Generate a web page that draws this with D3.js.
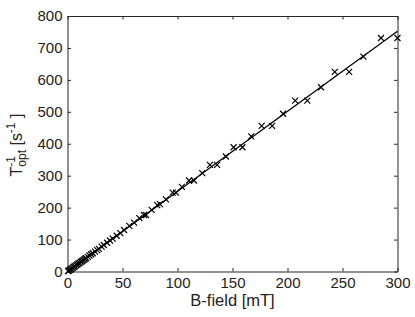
<!DOCTYPE html>
<html>
<head>
<meta charset="utf-8">
<script src="https://cdn.jsdelivr.net/npm/d3@7"></script>
<style>
  body { margin: 0; background: #fff; }
  text { font-family: "Liberation Sans", Arial, sans-serif; fill: #222; }
</style>
</head>
<body>
<div id="container"></div>
<script>
// measured points (B-field in mT, rate in 1/s)
const bField = [0.5, 1, 2, 3, 4, 5, 6, 7, 8, 9, 10, 11, 12, 13, 14, 15, 16, 17, 18.5, 20,
  21.5, 23, 25, 27, 28.5, 31, 33, 36, 38.6, 41, 44.7, 48, 51.4, 56.2, 60.5, 65.3,
  69.5, 71.4, 76.5, 81.6, 84, 89.5, 95.6, 98.6, 104, 110.5, 115, 122.5, 129.5, 136,
  144, 151, 159, 167, 176.5, 186, 196, 207, 218, 230.5, 243, 256, 269, 285, 300];
const rate = [1, 2.5, 5, 7, 10, 12, 15, 17, 20, 22, 25, 27, 30, 32, 35, 37, 40, 42, 46, 50,
  54, 57, 62, 67, 71, 78, 83, 90, 97, 103, 112, 120, 130, 143, 153, 167,
  177, 177, 193, 208, 211, 226, 247, 247, 265, 285, 285, 308, 334, 334,
  360, 389, 389, 423, 456, 456, 494, 535, 535, 577, 625, 625, 673, 731, 731];
// linear fit
const fitX = [0, 300];
const fitY = [0, 752];

const xTicks = [0, 50, 100, 150, 200, 250, 300];
const yTicks = [0, 100, 200, 300, 400, 500, 600, 700, 800];

const w = 415, h = 317;
const mLeft = 67.5, mRight = 397.5, mTop = 16, mBottom = 271.5;

const svg = d3.select("#container")
              .append("svg")
              .attr("width", w)
              .attr("height", h);

const xScale = d3.scaleLinear().domain([0, 300]).range([mLeft, mRight]);
const yScale = d3.scaleLinear().domain([0, 800]).range([mBottom, mTop]);

// axes, ticks pointing inward like matlab
const axisStyle = g => {
  g.selectAll("path, line").attr("stroke", "#262626");
  g.selectAll("text").style("font-size", "15px").attr("fill", "#222");
};
svg.append("g")
   .attr("transform", "translate(0," + mBottom + ")")
   .call(d3.axisBottom(xScale).tickValues(xTicks).tickSizeInner(-3.5).tickSizeOuter(0).tickPadding(6))
   .call(axisStyle);
svg.append("g")
   .attr("transform", "translate(0," + mTop + ")")
   .call(d3.axisTop(xScale).tickValues(xTicks).tickSizeInner(-3.5).tickSizeOuter(0).tickFormat(""))
   .call(axisStyle);
svg.append("g")
   .attr("transform", "translate(" + mLeft + ",0)")
   .call(d3.axisLeft(yScale).tickValues(yTicks).tickSizeInner(-3.5).tickSizeOuter(0).tickPadding(5))
   .call(axisStyle);
svg.append("g")
   .attr("transform", "translate(" + mRight + ",0)")
   .call(d3.axisRight(yScale).tickValues(yTicks).tickSizeInner(-3.5).tickSizeOuter(0).tickFormat(""))
   .call(axisStyle);

// fit line
const line = d3.line().x((d, i) => xScale(fitX[i])).y((d, i) => yScale(fitY[i]));
svg.append("path")
   .datum(fitX)
   .attr("d", line)
   .attr("fill", "none")
   .attr("stroke", "#000")
   .attr("stroke-width", 1.3);

// x markers
const s = 3;
svg.selectAll(".pt")
   .data(bField)
   .enter()
   .append("path")
   .attr("class", "pt")
   .attr("d", (d, i) => {
     const cx = xScale(d), cy = yScale(rate[i]);
     return "M" + (cx - s) + "," + (cy - s) + "L" + (cx + s) + "," + (cy + s) +
            "M" + (cx - s) + "," + (cy + s) + "L" + (cx + s) + "," + (cy - s);
   })
   .attr("stroke", "#000")
   .attr("stroke-width", 1.2)
   .attr("fill", "none");

// labels
svg.append("text")
   .attr("x", (mLeft + mRight) / 2)
   .attr("y", 306)
   .attr("text-anchor", "middle")
   .style("font-size", "16.5px")
   .text("B-field [mT]");

const ylab = svg.append("text")
   .attr("transform", "translate(21.5,145) rotate(-90)")
   .attr("text-anchor", "middle")
   .style("font-size", "16px");
ylab.append("tspan").text("T");
ylab.append("tspan").attr("dy", -7).style("font-size", "12px").text("-1");
ylab.append("tspan").attr("dx", -10.7).attr("dy", 11).style("font-size", "12px").text("opt");
ylab.append("tspan").attr("dy", -4).text(" [s");
ylab.append("tspan").attr("dy", -7).style("font-size", "12px").text("-1");
ylab.append("tspan").attr("dy", 7).text(" ]");
</script>
</body>
</html>
